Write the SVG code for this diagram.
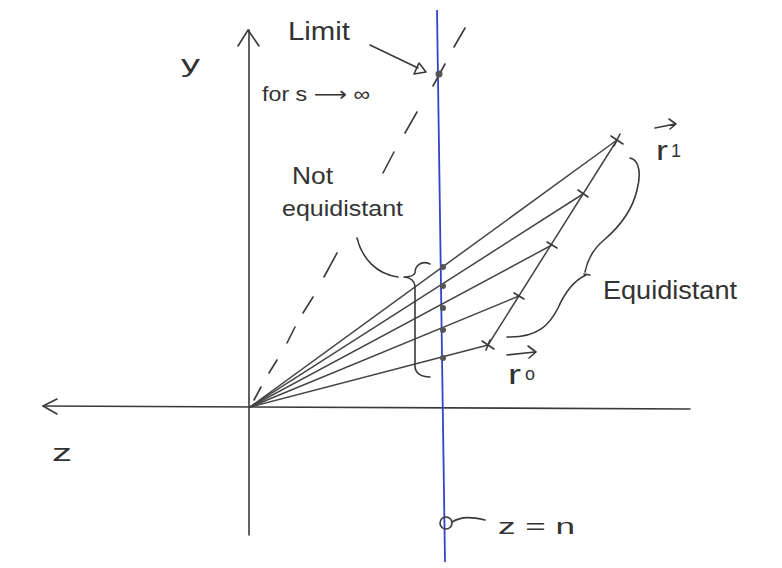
<svg xmlns="http://www.w3.org/2000/svg" width="782" height="568" viewBox="0 0 782 568">
<defs>
<style>
.ink{fill:none;stroke:#3a3a3a;stroke-width:1.6;stroke-linecap:round;stroke-linejoin:round}
.ray{fill:none;stroke:#444;stroke-width:1.5;stroke-linecap:round}
.txt{font-family:"Liberation Sans","DejaVu Sans",sans-serif;fill:#333}
.dot{fill:#555}
</style>
</defs>
<rect width="782" height="568" fill="#ffffff"/>

<g id="axes">
<line class="ink" x1="249" y1="30" x2="249" y2="535"/>
<polyline class="ink" points="238,46 248,30 259,46"/>
<line class="ink" x1="43" y1="406" x2="690" y2="409"/>
<polyline class="ink" points="57,399 43,406 57,414"/>
</g>

<g id="blue-line">
<line x1="437" y1="10" x2="445" y2="562" stroke="#3344cc" stroke-width="1.8"/>
</g>

<g id="connectors">
<path class="ink" d="M254,400 L261,387 M269,373 L277,360 M287,343 L295,327 M303,313 L313,297 M324,277 L337,253 M383,173 L394,152 M405,133 L417,112 M433,86 L445,64 M454,47 L465,28"/>
<line class="ray" x1="250" y1="407" x2="617" y2="140"/>
<line class="ray" x1="250" y1="407" x2="583" y2="194"/>
<line class="ray" x1="250" y1="407" x2="552" y2="245"/>
<line class="ray" x1="250" y1="407" x2="519" y2="296"/>
<line class="ray" x1="250" y1="407" x2="488" y2="345"/>
<line class="ray" x1="488" y1="345" x2="617" y2="140"/>
<line class="ink" x1="370" y1="45" x2="418" y2="68"/>
<polygon points="426,72 414,74 419,63" fill="none" stroke="#3a3a3a" stroke-width="1.6" stroke-linejoin="round"/>
</g>

<g id="points">
<path class="ink" d="M611,136 L623,144 M614,146 L620,134"/>
<path class="ink" d="M578,190 L588,197"/>
<path class="ink" d="M547,242 L557,248"/>
<path class="ink" d="M514,293 L524,299"/>
<path class="ink" d="M482,341 L494,349 M486,350 L490,340"/>
<circle class="dot" cx="443" cy="267" r="3"/>
<circle class="dot" cx="443" cy="286" r="3"/>
<circle class="dot" cx="443" cy="308" r="3"/>
<circle class="dot" cx="443" cy="330" r="3"/>
<circle class="dot" cx="443" cy="358" r="3"/>
<circle class="dot" cx="439" cy="74" r="3.5"/>
</g>

<g id="not-equidistant-brace">
<path class="ink" d="M430,264 C421,260 415,266 415,273 Q413,277 404,277 M404,277 Q414,278 415,286 L415,366 C415,373 421,377 430,377"/>
<path class="ink" d="M357,238 C362,258 376,274 398,277"/>
</g>

<g id="equidistant-brace">
<path class="ink" d="M630,158 C640,160 641,175 637,190 C632,212 618,228 604,240 C592,250 587,262 585,272 M584,274 L590,275 M586,275 C575,280 566,290 558,308 C550,324 538,338 507,337"/>
</g>

<g id="labels">
<text class="txt" x="288" y="40" font-size="25" textLength="62" lengthAdjust="spacingAndGlyphs">Limit</text>
<text class="txt" x="181" y="72" font-size="24" textLength="19" lengthAdjust="spacingAndGlyphs">y</text>
<text class="txt" x="262" y="101" font-size="20" textLength="108" lengthAdjust="spacingAndGlyphs">for s ⟶ ∞</text>
<text class="txt" x="292" y="184" font-size="24" textLength="41" lengthAdjust="spacingAndGlyphs">Not</text>
<text class="txt" x="282" y="216" font-size="22" textLength="121" lengthAdjust="spacingAndGlyphs">equidistant</text>
<text class="txt" x="603" y="299" font-size="26" textLength="134" lengthAdjust="spacingAndGlyphs">Equidistant</text>
<text class="txt" x="52" y="461" font-size="24" textLength="20" lengthAdjust="spacingAndGlyphs">z</text>
<text class="txt" x="498" y="534" font-size="22" textLength="77" lengthAdjust="spacingAndGlyphs">z = n</text>
<text class="txt" x="656" y="160" font-size="28" textLength="12" lengthAdjust="spacingAndGlyphs">r</text>
<text class="txt" x="671" y="157" font-size="18">1</text>
<text class="txt" x="508" y="384" font-size="28" textLength="13" lengthAdjust="spacingAndGlyphs">r</text>
<text class="txt" x="525" y="380" font-size="18">o</text>
</g>

<g id="vector-arrows">
<path class="ink" d="M655,128 L675,124 M669,119 L676,124 L670,129"/>
<path class="ink" d="M507,355 L535,352 M528,346 L536,352 L529,358"/>
</g>

<g id="z-marker">
<circle class="ink" cx="446" cy="523" r="6"/>
<path class="ink" d="M452,522 C462,516 472,517 485,520"/>
</g>
</svg>
